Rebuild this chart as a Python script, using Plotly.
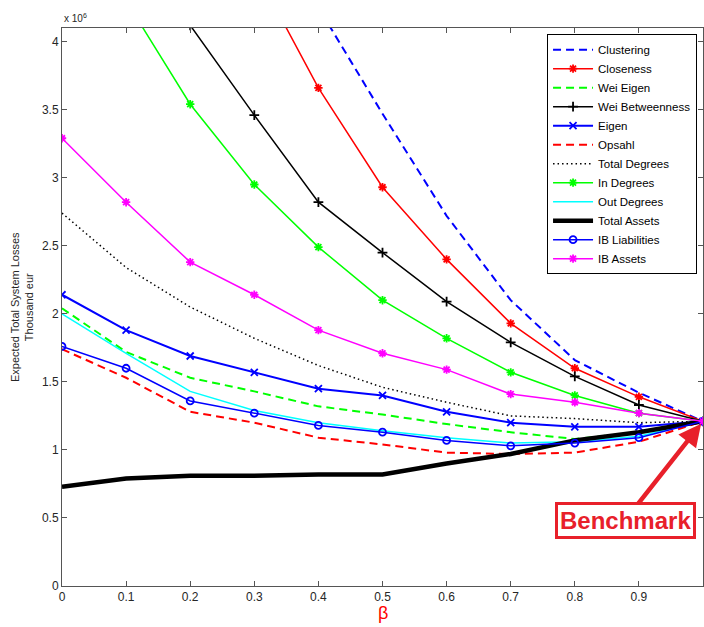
import plotly.graph_objects as go

# beta values on the horizontal axis
beta = [0, 0.1, 0.2, 0.3, 0.4, 0.5, 0.6, 0.7, 0.8, 0.9, 1.0]

# Expected total system losses (x 10^6 thousand eur) per ranking criterion
clustering      = [9.2, 7.8, 6.5, 5.3, 4.25, 3.47, 2.72, 2.10, 1.66, 1.42, 1.21]
closeness       = [8.0, 6.8, 5.6, 4.54, 3.66, 2.93, 2.40, 1.93, 1.60, 1.39, 1.21]
wei_eigen       = [2.04, 1.72, 1.53, 1.43, 1.32, 1.26, 1.19, 1.13, 1.08, 1.13, 1.21]
wei_betweenness = [5.9, 5.0, 4.12, 3.46, 2.82, 2.45, 2.09, 1.79, 1.54, 1.33, 1.21]
eigen           = [2.14, 1.88, 1.69, 1.57, 1.45, 1.40, 1.28, 1.20, 1.17, 1.17, 1.21]
opsahl          = [1.74, 1.53, 1.28, 1.20, 1.09, 1.04, 0.98, 0.97, 0.98, 1.06, 1.21]
total_degrees   = [2.74, 2.34, 2.05, 1.82, 1.62, 1.46, 1.35, 1.25, 1.23, 1.20, 1.21]
in_degrees      = [5.1, 4.30, 3.54, 2.95, 2.49, 2.10, 1.82, 1.57, 1.40, 1.27, 1.21]
out_degrees     = [2.00, 1.71, 1.43, 1.29, 1.20, 1.14, 1.09, 1.05, 1.06, 1.10, 1.21]
total_assets    = [0.73, 0.79, 0.81, 0.81, 0.82, 0.82, 0.90, 0.97, 1.07, 1.13, 1.21]
ib_liabilities  = [1.76, 1.60, 1.36, 1.27, 1.18, 1.13, 1.07, 1.03, 1.05, 1.09, 1.21]
ib_assets       = [3.29, 2.82, 2.38, 2.14, 1.88, 1.71, 1.59, 1.41, 1.35, 1.27, 1.21]

x_ticks = [0, 0.1, 0.2, 0.3, 0.4, 0.5, 0.6, 0.7, 0.8, 0.9, 1]
x_tick_labels = ["0", "0.1", "0.2", "0.3", "0.4", "0.5", "0.6", "0.7", "0.8", "0.9", "1"]
y_ticks = [0, 0.5, 1, 1.5, 2, 2.5, 3, 3.5, 4]
y_tick_labels = ["0", "0.5", "1", "1.5", "2", "2.5", "3", "3.5", "4"]

BLUE, RED, GREEN, BLACK = "#0000ff", "#ff0000", "#00ff00", "#000000"
CYAN, MAGENTA = "#00ffff", "#ff00ff"
DASH = "8px,5px"
DOT = "1.5px,3px"

series = [
    ("Clustering", clustering, BLUE, 2, DASH, None),
    ("Closeness", closeness, RED, 1.5, "solid", "asterisk-open"),
    ("Wei Eigen", wei_eigen, GREEN, 2, DASH, None),
    ("Wei Betweenness", wei_betweenness, BLACK, 1.5, "solid", "cross-thin-open"),
    ("Eigen", eigen, BLUE, 2, "solid", "x-thin-open"),
    ("Opsahl", opsahl, RED, 2, DASH, None),
    ("Total Degrees", total_degrees, BLACK, 1.5, DOT, None),
    ("In Degrees", in_degrees, GREEN, 1.5, "solid", "asterisk-open"),
    ("Out Degrees", out_degrees, CYAN, 1.5, "solid", None),
    ("Total Assets", total_assets, BLACK, 4.5, "solid", None),
    ("IB Liabilities", ib_liabilities, BLUE, 1.5, "solid", "circle-open"),
    ("IB Assets", ib_assets, MAGENTA, 1.5, "solid", "asterisk-open"),
]

fig = go.Figure()
for name, values, color, width, dash, symbol in series:
    kwargs = dict(
        x=beta, y=values, name=name,
        line=dict(color=color, width=width, dash=dash),
    )
    if symbol:
        kwargs["mode"] = "lines+markers"
        kwargs["marker"] = dict(symbol=symbol, size=7,
                                line=dict(color=color, width=1.8))
    else:
        kwargs["mode"] = "lines"
    fig.add_trace(go.Scatter(**kwargs))

axis_style = dict(
    showgrid=False, zeroline=False, showline=True, linecolor="#555555",
    linewidth=1, mirror="ticks", ticks="inside", ticklen=5,
    tickcolor="#555555", tickfont=dict(size=12, color="#262626"),
)

fig.update_layout(
    width=704, height=627,
    margin=dict(l=62, r=1, t=28, b=41),
    paper_bgcolor="white", plot_bgcolor="white",
    font=dict(family="Liberation Sans, Arial, sans-serif", color="#262626"),
    xaxis=dict(range=[0, 1], tickvals=x_ticks, ticktext=x_tick_labels,
               **axis_style),
    yaxis=dict(range=[0, 4.1], tickvals=y_ticks, ticktext=y_tick_labels,
               **axis_style),
    legend=dict(
        x=0.9907, y=0.989, xanchor="right", yanchor="top",
        bgcolor="white", bordercolor="black", borderwidth=1,
        font=dict(size=11.5, color="black"), itemwidth=40,
        tracegroupgap=0,
    ),
    showlegend=True,
)

# axis labels and exponent
fig.add_annotation(
    text="Expected Total System Losses<br>Thousand eur",
    xref="paper", yref="paper", x=0, y=0.5, xshift=-40,
    xanchor="center", yanchor="middle", textangle=-90, showarrow=False,
    font=dict(size=11, color="#262626"),
)
fig.add_annotation(
    text="x 10<sup>6</sup>", xref="paper", yref="paper", x=0, y=1,
    xanchor="left", yanchor="bottom", yshift=2, showarrow=False,
    font=dict(size=10, color="#262626"),
)
fig.add_annotation(
    text="β", xref="paper", yref="paper", x=0.5, y=0, yshift=-27,
    xanchor="center", yanchor="middle", showarrow=False,
    font=dict(size=18, color="#ff0000"),
)

# benchmark callout pointing at the common end point
fig.add_annotation(
    text="<b>Benchmark</b>", x=beta[-1], y=total_assets[-1],
    xref="x", yref="y", ax=-78, ay=99, axref="pixel", ayref="pixel",
    showarrow=True, arrowhead=2, arrowsize=1, arrowwidth=4.5,
    arrowcolor="#e8202a", standoff=3,
    font=dict(size=24, color="#e8202a", family="Liberation Sans, Arial"),
    bgcolor="white", bordercolor="#e8202a", borderwidth=3, borderpad=2,
)

fig.write_html("out.html")
